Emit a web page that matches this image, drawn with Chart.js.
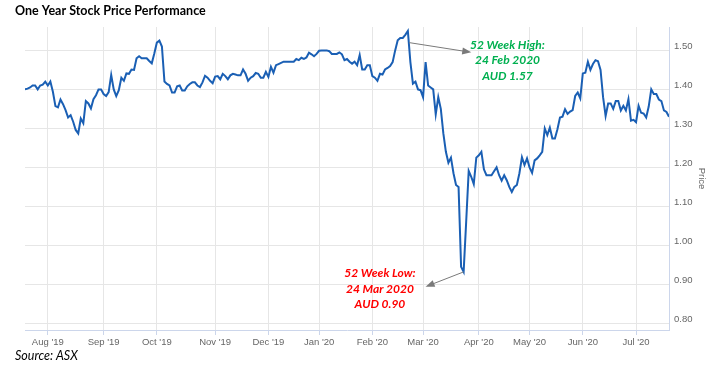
<!DOCTYPE html>
<html>
<head>
<meta charset="utf-8">
<title>One Year Stock Price Performance</title>
<script src="https://cdn.jsdelivr.net/npm/chart.js@4.4.1/dist/chart.umd.min.js"></script>
<style>
  html, body { margin: 0; padding: 0; background: #fff; }
  #wrap { position: relative; width: 718px; height: 373px; }
</style>
</head>
<body>
<div id="wrap"><canvas id="priceChart" width="718" height="373"></canvas></div>
<script>
// daily closes, 19 Jul 2019 .. 17 Jul 2020 (trading days only)
const prices = [
  1.400, 1.402, 1.405, 1.410, 1.410, 1.400, 1.410, 1.412, 1.420, 1.410,
  1.420, 1.394, 1.357, 1.354, 1.374, 1.362, 1.347, 1.328, 1.334, 1.317,
  1.296, 1.287, 1.325, 1.313, 1.370, 1.364, 1.351, 1.375, 1.385, 1.400,
  1.400, 1.388, 1.383, 1.393, 1.437, 1.400, 1.383, 1.398, 1.430, 1.422,
  1.441, 1.440, 1.451, 1.450, 1.480, 1.485, 1.480, 1.480, 1.480, 1.473,
  1.467, 1.492, 1.520, 1.525, 1.510, 1.420, 1.414, 1.410, 1.392, 1.392,
  1.408, 1.410, 1.397, 1.397, 1.408, 1.414, 1.418, 1.418, 1.410, 1.406,
  1.418, 1.435, 1.430, 1.422, 1.416, 1.433, 1.434, 1.426, 1.440, 1.434,
  1.426, 1.436, 1.440, 1.438, 1.436, 1.436, 1.451, 1.440, 1.422, 1.430,
  1.434, 1.442, 1.440, 1.430, 1.430, 1.445, 1.432, 1.458, 1.443, 1.462,
  1.465, 1.468, 1.471, 1.471, 1.471, 1.471, 1.471, 1.478, 1.475, 1.481,
  1.478, 1.482, 1.494, 1.490, 1.485, 1.491, 1.499, 1.500, 1.500, 1.500,
  1.498, 1.491, 1.491, 1.491, 1.495, 1.490, 1.475, 1.478, 1.471, 1.466,
  1.471, 1.462, 1.488, 1.451, 1.451, 1.462, 1.462, 1.434, 1.430, 1.422,
  1.440, 1.438, 1.451, 1.455, 1.460, 1.470, 1.500, 1.526, 1.532, 1.532,
  1.540, 1.550, 1.470, 1.415, 1.420, 1.400, 1.398, 1.380, 1.470, 1.410,
  1.405, 1.400, 1.336, 1.380, 1.350, 1.287, 1.240, 1.212, 1.225, 1.185,
  1.155, 1.150, 0.945, 0.932, 1.060, 1.191, 1.176, 1.157, 1.225, 1.231,
  1.240, 1.195, 1.180, 1.180, 1.180, 1.190, 1.200, 1.180, 1.166, 1.180,
  1.167, 1.150, 1.137, 1.150, 1.155, 1.185, 1.226, 1.206, 1.223, 1.200,
  1.186, 1.218, 1.223, 1.231, 1.240, 1.300, 1.283, 1.302, 1.274, 1.274,
  1.298, 1.328, 1.330, 1.349, 1.337, 1.343, 1.347, 1.383, 1.392, 1.377,
  1.441, 1.443, 1.471, 1.450, 1.465, 1.475, 1.472, 1.450, 1.380, 1.332,
  1.364, 1.364, 1.350, 1.370, 1.370, 1.346, 1.358, 1.346, 1.375, 1.320,
  1.322, 1.316, 1.358, 1.340, 1.338, 1.328, 1.356, 1.400, 1.388, 1.388,
  1.374, 1.370, 1.346, 1.342, 1.330
];

// first trading day of each month (index into prices) and its label
const monthStarts = [9, 31, 52, 75, 96, 116, 137, 157, 179, 199, 220, 241];
const monthLabels = ["Aug '19", "Sep '19", "Oct '19", "Nov '19", "Dec '19", "Jan '20",
                     "Feb '20", "Mar '20", "Apr '20", "May '20", "Jun '20", "Jul '20"];
const priceTicks = [0.80, 0.90, 1.00, 1.10, 1.20, 1.30, 1.40, 1.50];

const highNote = ['52 Week High:', '24 Feb 2020', 'AUD 1.57'];
const lowNote = ['52 Week Low:', '24 Mar 2020', 'AUD 0.90'];

// title, source, 52 week notes and arrows
const notesPlugin = {
    id: 'notes',
    afterDraw(chart) {
        const ctx = chart.ctx;
        const xs = chart.scales.x, ys = chart.scales.y;
        const px = v => xs.getPixelForValue(v);
        const py = v => ys.getPixelForValue(v);

        ctx.save();
        ctx.fillStyle = '#000';
        ctx.textBaseline = 'alphabetic';
        ctx.textAlign = 'left';
        ctx.font = 'bold 12.5px Lato';
        ctx.fillText('One Year Stock Price Performance', 15, 15);
        ctx.font = 'italic 12.5px Lato';
        ctx.fillText('Source: ASX', 15, 360);

        function arrow(x1, y1, x2, y2) {
            const a = Math.atan2(y2 - y1, x2 - x1);
            ctx.strokeStyle = '#7a7a7a';
            ctx.fillStyle = '#7a7a7a';
            ctx.lineWidth = 1;
            ctx.beginPath();
            ctx.moveTo(x1, y1);
            ctx.lineTo(x2 - 7 * Math.cos(a), y2 - 7 * Math.sin(a));
            ctx.stroke();
            ctx.beginPath();
            ctx.moveTo(x2, y2);
            ctx.lineTo(x2 - 9 * Math.cos(a) + 3.5 * Math.sin(a), y2 - 9 * Math.sin(a) - 3.5 * Math.cos(a));
            ctx.lineTo(x2 - 9 * Math.cos(a) - 3.5 * Math.sin(a), y2 - 9 * Math.sin(a) + 3.5 * Math.cos(a));
            ctx.closePath();
            ctx.fill();
        }

        const hi = prices.indexOf(Math.max(...prices));
        const lo = prices.indexOf(Math.min(...prices));
        arrow(px(hi + 0.5), py(1.52), px(176), py(1.495));
        arrow(px(lo), py(prices[lo]), px(158), py(0.894));

        ctx.font = 'bold italic 12px Lato';
        ctx.textAlign = 'center';
        ctx.textBaseline = 'middle';
        ctx.fillStyle = '#00b050';
        highNote.forEach((t, k) => ctx.fillText(t, px(190.3), py(1.514) + k * 15.5));
        ctx.fillStyle = '#ff0000';
        lowNote.forEach((t, k) => ctx.fillText(t, px(140), py(0.928) + k * 15.5));
        ctx.restore();
    }
};

const ctx = document.getElementById('priceChart').getContext('2d');
const priceChart = new Chart(ctx, {
    type: 'line',
    data: {
        datasets: [{
            label: 'Price',
            data: prices.map((p, i) => ({ x: i, y: p })),
            borderColor: '#1a5fb4',
            borderWidth: 2,
            pointRadius: 0,
            tension: 0,
            fill: false
        }]
    },
    options: {
        responsive: false,
        animation: false,
        layout: { padding: { left: 25, top: 27, right: 0, bottom: 0 } },
        plugins: {
            legend: { display: false },
            tooltip: { enabled: false }
        },
        scales: {
            x: {
                type: 'linear',
                min: 0,
                max: prices.length - 1,
                afterBuildTicks: scale => { scale.ticks = monthStarts.map(v => ({ value: v })); },
                afterFit: scale => { scale.height = 43; },
                grid: { color: '#e6e6e6', tickColor: '#ccd6eb', tickLength: 5 },
                border: { color: '#ccd6eb' },
                ticks: {
                    color: '#666',
                    font: { family: 'Liberation Sans', size: 9.5 },
                    maxRotation: 0,
                    autoSkip: false,
                    padding: 2,
                    callback: v => monthLabels[monthStarts.indexOf(v)]
                }
            },
            y: {
                position: 'right',
                min: 0.783,
                max: 1.56,
                afterBuildTicks: scale => { scale.ticks = priceTicks.map(v => ({ value: v })); },
                afterFit: scale => { scale.width = 49; },
                grid: { color: '#e6e6e6', drawTicks: false },
                border: { color: '#ccd6eb' },
                ticks: {
                    color: '#666',
                    font: { family: 'Liberation Sans', size: 9.5 },
                    padding: 5,
                    labelOffset: -4,
                    callback: v => v.toFixed(2)
                },
                title: {
                    display: true,
                    text: 'Price',
                    color: '#666',
                    font: { family: 'Liberation Sans', size: 9.5 },
                    padding: { top: 11, bottom: 0 }
                }
            }
        }
    },
    plugins: [notesPlugin]
});
</script>
</body>
</html>
